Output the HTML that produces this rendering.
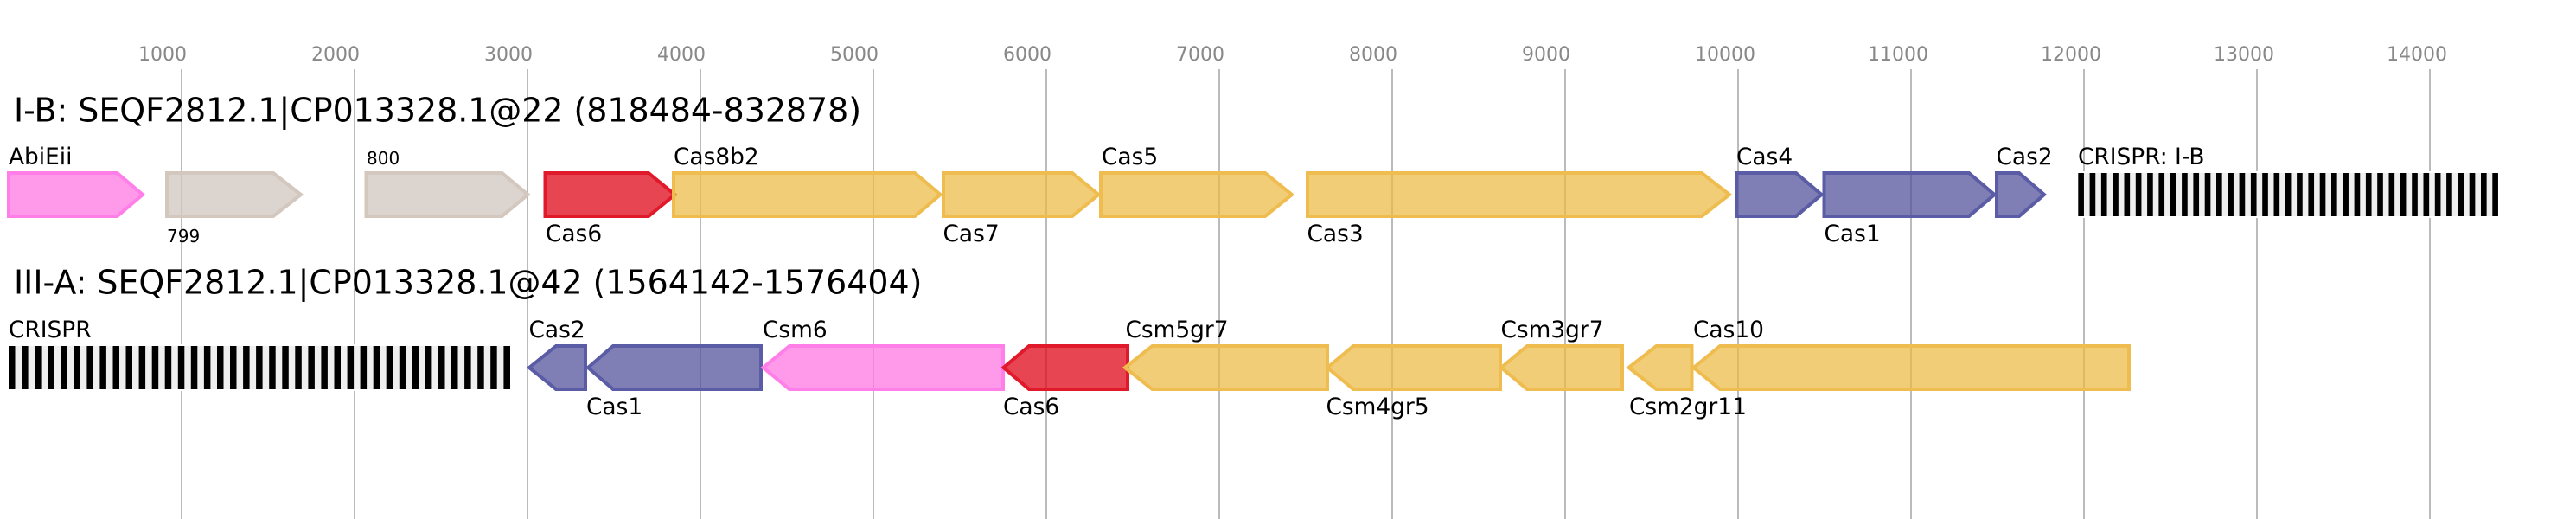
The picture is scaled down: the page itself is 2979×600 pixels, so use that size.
<!DOCTYPE html>
<html><head><meta charset="utf-8"><title>CRISPR-Cas loci</title>
<style>
html,body{margin:0;padding:0;background:#fff}
svg{display:block}
text{font-family:"DejaVu Sans",sans-serif;fill:#000}
.t{font-size:22px;fill:#888}
.h{font-size:37.9px}
.l{font-size:26.4px}
.s{font-size:20px}
.g{stroke:#bbb;stroke-width:2}
polygon{stroke-width:4}
.go{fill:rgba(236,186,67,.72);stroke:#efbd4f}
.bl{fill:rgba(80,80,155,.73);stroke:#5a5ca5}
.re{fill:rgba(223,7,24,.75);stroke:#e01a2b}
.pi{fill:rgba(255,119,227,.75);stroke:#ff7ee8}
.be{fill:rgba(208,198,191,.75);stroke:#d3c7be}
.bar{fill:#000}
</style></head><body>
<svg xmlns="http://www.w3.org/2000/svg" width="2979" height="600" viewBox="0 0 2979 600">
<rect width="2979" height="600" fill="#fff"/>
<g class="g">
<line x1="210" y1="80" x2="210" y2="600"/><line x1="410" y1="80" x2="410" y2="600"/><line x1="610" y1="80" x2="610" y2="600"/><line x1="810" y1="80" x2="810" y2="600"/><line x1="1010" y1="80" x2="1010" y2="600"/><line x1="1210" y1="80" x2="1210" y2="600"/><line x1="1410" y1="80" x2="1410" y2="600"/><line x1="1610" y1="80" x2="1610" y2="600"/><line x1="1810" y1="80" x2="1810" y2="600"/><line x1="2010" y1="80" x2="2010" y2="600"/><line x1="2210" y1="80" x2="2210" y2="600"/><line x1="2410" y1="80" x2="2410" y2="600"/><line x1="2610" y1="80" x2="2610" y2="600"/><line x1="2810" y1="80" x2="2810" y2="600"/>
</g>
<text class="t" x="160" y="70">1000</text><text class="t" x="360" y="70">2000</text><text class="t" x="560" y="70">3000</text><text class="t" x="760" y="70">4000</text><text class="t" x="960" y="70">5000</text><text class="t" x="1160" y="70">6000</text><text class="t" x="1360" y="70">7000</text><text class="t" x="1560" y="70">8000</text><text class="t" x="1760" y="70">9000</text><text class="t" x="1960" y="70">10000</text><text class="t" x="2160" y="70">11000</text><text class="t" x="2360" y="70">12000</text><text class="t" x="2560" y="70">13000</text><text class="t" x="2760" y="70">14000</text>

<text class="h" x="16" y="140.5">I-B: SEQF2812.1|CP013328.1@22 (818484-832878)</text>
<text class="h" x="16" y="339.5">III-A: SEQF2812.1|CP013328.1@42 (1564142-1576404)</text>

<!-- row 1 genes -->
<polygon class="pi" points="10,200 135.5,200 165,225 135.5,250 10,250"/>
<polygon class="be" points="193,200 316,200 348,225 316,250 193,250"/>
<polygon class="be" points="423.5,200 580.5,200 610.5,225 580.5,250 423.5,250"/>
<polygon class="re" points="630.5,200 750,200 780.5,225 750,250 630.5,250"/>
<polygon class="go" points="779,200 1058,200 1087.5,225 1058,250 779,250"/>
<polygon class="go" points="1091,200 1240,200 1270.5,225 1240,250 1091,250"/>
<polygon class="go" points="1273,200 1463,200 1494,225 1463,250 1273,250"/>
<polygon class="go" points="1512,200 1968,200 2000,225 1968,250 1512,250"/>
<polygon class="bl" points="2008,200 2077,200 2106.5,225 2077,250 2008,250"/>
<polygon class="bl" points="2109.5,200 2277,200 2306.5,225 2277,250 2109.5,250"/>
<polygon class="bl" points="2309,200 2335,200 2364,225 2335,250 2309,250"/>

<text class="l" x="10" y="190">AbiEii</text>
<text class="s" x="193" y="280">799</text>
<text class="s" x="424" y="190">800</text>
<text class="l" x="631" y="279">Cas6</text>
<text class="l" x="779" y="190">Cas8b2</text>
<text class="l" x="1090.5" y="279">Cas7</text>
<text class="l" x="1274" y="190">Cas5</text>
<text class="l" x="1511.5" y="279">Cas3</text>
<text class="l" x="2008" y="190">Cas4</text>
<text class="l" x="2109.5" y="279">Cas1</text>
<text class="l" x="2308.5" y="190">Cas2</text>
<text class="l" x="2403" y="190">CRISPR: I-B</text>

<!-- row 1 CRISPR -->
<rect x="2403.3" y="198" width="485.7" height="54" fill="#fff"/>
<rect x="2403.3" y="200" width="485.7" height="50" fill="#efefef"/>
<g class="bar" id="c1"><rect x="2403.3" y="200" width="6.65" height="50"/><rect x="2416.6" y="200" width="6.65" height="50"/><rect x="2429.9" y="200" width="6.65" height="50"/><rect x="2443.2" y="200" width="6.65" height="50"/><rect x="2456.5" y="200" width="6.65" height="50"/><rect x="2469.8" y="200" width="6.65" height="50"/><rect x="2483.1" y="200" width="6.65" height="50"/><rect x="2496.4" y="200" width="6.65" height="50"/><rect x="2509.8" y="200" width="6.65" height="50"/><rect x="2523.1" y="200" width="6.65" height="50"/><rect x="2536.4" y="200" width="6.65" height="50"/><rect x="2549.7" y="200" width="6.65" height="50"/><rect x="2563" y="200" width="6.65" height="50"/><rect x="2576.3" y="200" width="6.65" height="50"/><rect x="2589.6" y="200" width="6.65" height="50"/><rect x="2602.9" y="200" width="6.65" height="50"/><rect x="2616.2" y="200" width="6.65" height="50"/><rect x="2629.5" y="200" width="6.65" height="50"/><rect x="2642.8" y="200" width="6.65" height="50"/><rect x="2656.1" y="200" width="6.65" height="50"/><rect x="2669.4" y="200" width="6.65" height="50"/><rect x="2682.7" y="200" width="6.65" height="50"/><rect x="2696" y="200" width="6.65" height="50"/><rect x="2709.3" y="200" width="6.65" height="50"/><rect x="2722.6" y="200" width="6.65" height="50"/><rect x="2735.9" y="200" width="6.65" height="50"/><rect x="2749.2" y="200" width="6.65" height="50"/><rect x="2762.5" y="200" width="6.65" height="50"/><rect x="2775.8" y="200" width="6.65" height="50"/><rect x="2789.2" y="200" width="6.65" height="50"/><rect x="2802.5" y="200" width="6.65" height="50"/><rect x="2815.8" y="200" width="6.65" height="50"/><rect x="2829.1" y="200" width="6.65" height="50"/><rect x="2842.4" y="200" width="6.65" height="50"/><rect x="2855.7" y="200" width="6.65" height="50"/><rect x="2869" y="200" width="6.65" height="50"/><rect x="2882.3" y="200" width="6.65" height="50"/></g>

<!-- row 2 CRISPR -->
<rect x="10" y="398" width="580" height="54" fill="#fff"/>
<rect x="10" y="400" width="580" height="50" fill="#efefef"/>
<g class="bar"><rect x="10" y="400" width="7.5" height="50"/><rect x="25.1" y="400" width="7.5" height="50"/><rect x="40.1" y="400" width="7.5" height="50"/><rect x="55.2" y="400" width="7.5" height="50"/><rect x="70.2" y="400" width="7.5" height="50"/><rect x="85.3" y="400" width="7.5" height="50"/><rect x="100.4" y="400" width="7.5" height="50"/><rect x="115.4" y="400" width="7.5" height="50"/><rect x="130.5" y="400" width="7.5" height="50"/><rect x="145.5" y="400" width="7.5" height="50"/><rect x="160.6" y="400" width="7.5" height="50"/><rect x="175.7" y="400" width="7.5" height="50"/><rect x="190.7" y="400" width="7.5" height="50"/><rect x="205.8" y="400" width="7.5" height="50"/><rect x="220.8" y="400" width="7.5" height="50"/><rect x="235.9" y="400" width="7.5" height="50"/><rect x="251" y="400" width="7.5" height="50"/><rect x="266" y="400" width="7.5" height="50"/><rect x="281.1" y="400" width="7.5" height="50"/><rect x="296.1" y="400" width="7.5" height="50"/><rect x="311.2" y="400" width="7.5" height="50"/><rect x="326.3" y="400" width="7.5" height="50"/><rect x="341.3" y="400" width="7.5" height="50"/><rect x="356.4" y="400" width="7.5" height="50"/><rect x="371.4" y="400" width="7.5" height="50"/><rect x="386.5" y="400" width="7.5" height="50"/><rect x="401.6" y="400" width="7.5" height="50"/><rect x="416.6" y="400" width="7.5" height="50"/><rect x="431.7" y="400" width="7.5" height="50"/><rect x="446.7" y="400" width="7.5" height="50"/><rect x="461.8" y="400" width="7.5" height="50"/><rect x="476.9" y="400" width="7.5" height="50"/><rect x="491.9" y="400" width="7.5" height="50"/><rect x="507" y="400" width="7.5" height="50"/><rect x="522" y="400" width="7.5" height="50"/><rect x="537.1" y="400" width="7.5" height="50"/><rect x="552.2" y="400" width="7.5" height="50"/><rect x="567.2" y="400" width="7.5" height="50"/><rect x="582.4" y="400" width="7.6" height="50"/></g>

<!-- row 2 genes -->
<polygon class="bl" points="612,425 643,400 677,400 677,450 643,450"/>
<polygon class="bl" points="680,425 709,400 880,400 880,450 709,450"/>
<polygon class="pi" points="882.5,425 913,400 1160,400 1160,450 913,450"/>
<polygon class="re" points="1160.5,425 1190,400 1304,400 1304,450 1190,450"/>
<polygon class="go" points="1301,425 1332.5,400 1535,400 1535,450 1332.5,450"/>
<polygon class="go" points="1535,425 1565,400 1735,400 1735,450 1565,450"/>
<polygon class="go" points="1736,425 1766,400 1876,400 1876,450 1766,450"/>
<polygon class="go" points="1883.5,425 1915.5,400 1956.5,400 1956.5,450 1915.5,450"/>
<polygon class="go" points="1958.5,425 1989,400 2462,400 2462,450 1989,450"/>

<text class="l" x="10" y="390">CRISPR</text>
<text class="l" x="611.5" y="390">Cas2</text>
<text class="l" x="678" y="479">Cas1</text>
<text class="l" x="882" y="390">Csm6</text>
<text class="l" x="1160" y="479">Cas6</text>
<text class="l" x="1301.5" y="390">Csm5gr7</text>
<text class="l" x="1533.5" y="479">Csm4gr5</text>
<text class="l" x="1735.5" y="390">Csm3gr7</text>
<text class="l" x="1884" y="479">Csm2gr11</text>
<text class="l" x="1958" y="390">Cas10</text>
</svg>
</body></html>
